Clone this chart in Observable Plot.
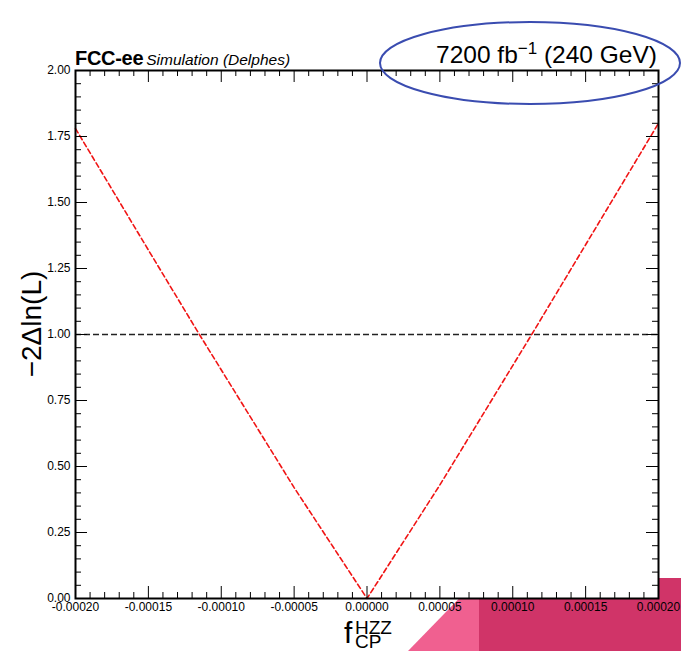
<!DOCTYPE html>
<html>
<head>
<meta charset="utf-8">
<script src="https://cdn.jsdelivr.net/npm/d3@7"></script>
<script src="https://cdn.jsdelivr.net/npm/@observablehq/plot@0.6"></script>
<style>
  html, body { margin: 0; padding: 0; background: #ffffff; }
  #chart { position: relative; width: 681px; height: 651px; overflow: hidden; }
  svg { font-family: "Liberation Sans", Arial, Helvetica, sans-serif; }
</style>
</head>
<body>
<div id="chart"></div>
<script>
// ---- data ----
const fcp = [-0.00020, -0.00015, -0.000115, -0.00005, 0.0, 0.00005, 0.000113, 0.00015, 0.00020];
const nll = [1.78, 1.32, 1.00, 0.42, 0.0, 0.43, 1.00, 1.34, 1.80];
const refLevel = [1.0];

const xMajorTicks = [-0.00020, -0.00015, -0.00010, -0.00005, 0.0, 0.00005, 0.00010, 0.00015, 0.00020];
const xMinorTicks = [-0.00019,-0.00018,-0.00017,-0.00016,-0.00014,-0.00013,-0.00012,-0.00011,
  -0.00009,-0.00008,-0.00007,-0.00006,-0.00004,-0.00003,-0.00002,-0.00001,
  0.00001,0.00002,0.00003,0.00004,0.00006,0.00007,0.00008,0.00009,
  0.00011,0.00012,0.00013,0.00014,0.00016,0.00017,0.00018,0.00019];
const yMajorTicks = [0.00, 0.25, 0.50, 0.75, 1.00, 1.25, 1.50, 1.75, 2.00];
const yMinorTicks = [0.05,0.10,0.15,0.20,0.30,0.35,0.40,0.45,0.55,0.60,0.65,0.70,
  0.80,0.85,0.90,0.95,1.05,1.10,1.15,1.20,1.30,1.35,1.40,1.45,1.55,1.60,1.65,1.70,1.80,1.85,1.90,1.95];

const xLabelMain = "f", xLabelSup = "HZZ", xLabelSub = "CP";
const yLabel = "\u22122\u0394ln(L)";
const expLabel = "FCC-ee", expSub = "Simulation (Delphes)";
const lumiText = ["7200 fb", "\u22121", " (240 GeV)"];

const curve = fcp.map((f, i) => ({f, v: nll[i]}));

// ---- layout ----
const W = 681, H = 651;
const mL = 75, mR = 23, mT = 70, mB = 53;
const pw = W - mL - mR, ph = H - mT - mB;
const majLen = 12, minLen = 6;

const chart = Plot.plot({
  width: W, height: H,
  marginLeft: mL, marginRight: mR, marginTop: mT, marginBottom: mB,
  style: {fontFamily: '"Liberation Sans", Arial, sans-serif', fontSize: "12px", background: "transparent", color: "#000"},
  x: {domain: [-0.0002, 0.0002], label: null},
  y: {domain: [0, 2], label: null},
  marks: [
    Plot.frame({fill: "white", stroke: null}),
    Plot.ruleY(refLevel, {y: d => d, stroke: "#222", strokeWidth: 1.5, strokeDasharray: "6,3"}),
    Plot.line(curve, {x: "f", y: "v", stroke: "#f01414", strokeWidth: 1.6, strokeDasharray: "5,3"}),
    // inward ticks: bottom / top
    Plot.ruleX(xMajorTicks, {x: d => d, insetTop: ph - majLen, stroke: "#000", strokeWidth: 1}),
    Plot.ruleX(xMinorTicks, {x: d => d, insetTop: ph - minLen, stroke: "#000", strokeWidth: 1}),
    Plot.ruleX(xMajorTicks, {x: d => d, insetBottom: ph - majLen, stroke: "#000", strokeWidth: 1}),
    Plot.ruleX(xMinorTicks, {x: d => d, insetBottom: ph - minLen, stroke: "#000", strokeWidth: 1}),
    // inward ticks: left / right
    Plot.ruleY(yMajorTicks, {y: d => d, insetRight: pw - majLen, stroke: "#000", strokeWidth: 1}),
    Plot.ruleY(yMinorTicks, {y: d => d, insetRight: pw - minLen, stroke: "#000", strokeWidth: 1}),
    Plot.ruleY(yMajorTicks, {y: d => d, insetLeft: pw - majLen, stroke: "#000", strokeWidth: 1}),
    Plot.ruleY(yMinorTicks, {y: d => d, insetLeft: pw - minLen, stroke: "#000", strokeWidth: 1}),
    Plot.frame({stroke: "#000", strokeWidth: 2}),
    Plot.axisX({ticks: xMajorTicks, tickSize: 0, tickPadding: 4, tickFormat: d => d.toFixed(5), fontSize: 12, label: null}),
    Plot.axisY({ticks: yMajorTicks, tickSize: 0, tickPadding: 5, tickFormat: d => d.toFixed(2), fontSize: 12, label: null})
  ]
});

document.getElementById("chart").appendChild(chart);

// ---- decorations ----
const svg = d3.select(chart);
// corner shapes behind everything
const bg = svg.insert("g", ":first-child");
bg.append("path").attr("d", "M408,651 L479,578 L479,651 Z").attr("fill", "#f06090");
bg.append("rect").attr("x", 479).attr("y", 578).attr("width", 202).attr("height", 73).attr("fill", "#d03468");

const fg = svg.append("g").attr("font-family", '"Liberation Sans", Arial, sans-serif')
  .attr("fill", "#000").attr("text-anchor", "start");

// experiment label
const t1 = fg.append("text").attr("x", 75).attr("y", 65).attr("text-anchor", "start");
t1.append("tspan").attr("font-weight", "bold").attr("font-size", 20).attr("letter-spacing", -0.3).text(expLabel);
t1.append("tspan").attr("font-style", "italic").attr("font-size", 15.5).attr("dx", 3).text(expSub);

// lumi text
const t2 = fg.append("text").attr("x", 657).attr("y", 63).attr("text-anchor", "end").attr("font-size", 24.5);
t2.append("tspan").text(lumiText[0]);
t2.append("tspan").attr("dy", -9).attr("font-size", 17).text(lumiText[1]);
t2.append("tspan").attr("dy", 9).text(lumiText[2]);

// ellipse
fg.append("ellipse").attr("cx", 530).attr("cy", 63).attr("rx", 150).attr("ry", 41)
  .attr("fill", "none").attr("stroke", "#3a4cb0").attr("stroke-width", 2);

// y label
fg.append("text").attr("transform", "translate(41,324) rotate(-90)").attr("text-anchor", "middle")
  .attr("font-size", 28).text(yLabel);

// x label
const xl = fg.append("text").attr("font-size", 30).attr("text-anchor", "start");
xl.append("tspan").attr("x", 344).attr("y", 643).text(xLabelMain);
xl.append("tspan").attr("x", 355).attr("y", 634).attr("font-size", 19).text(xLabelSup);
xl.append("tspan").attr("x", 355).attr("y", 648).attr("font-size", 19).text(xLabelSub);
</script>
</body>
</html>
